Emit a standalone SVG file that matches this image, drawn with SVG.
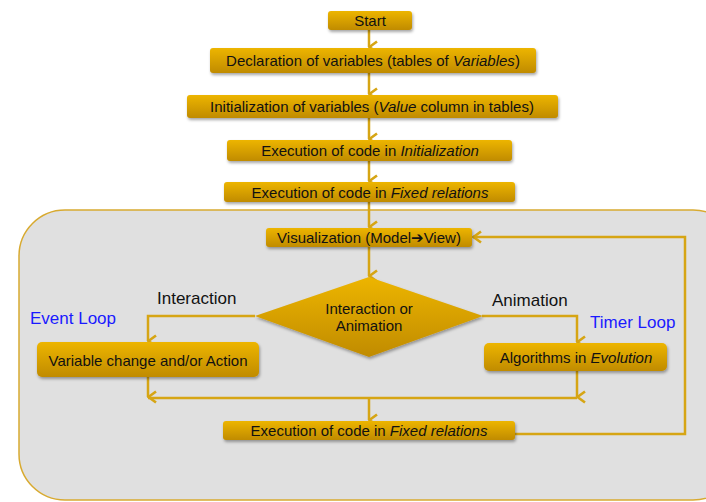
<svg xmlns="http://www.w3.org/2000/svg" width="706" height="502" viewBox="0 0 706 502">
<defs>
<linearGradient id="gold" x1="0" y1="0" x2="0" y2="1">
<stop offset="0" stop-color="#edb500"/>
<stop offset="1" stop-color="#c08b00"/>
</linearGradient>
<filter id="sh" x="-10%" y="-30%" width="120%" height="180%">
<feDropShadow dx="1" dy="2" stdDeviation="1.5" flood-color="#000" flood-opacity="0.35"/>
</filter>
<marker id="ah" viewBox="0 0 14 11" refX="7" refY="10" markerWidth="14" markerHeight="11" markerUnits="userSpaceOnUse" orient="auto-start-reverse">
<path d="M1.5,2 L7,9.5 L12.5,2" fill="none" stroke="#d6a514" stroke-width="2.6"/>
</marker>
<marker id="ahr" viewBox="0 0 11 14" refX="1" refY="7" markerWidth="11" markerHeight="14" markerUnits="userSpaceOnUse" orient="0">
<path d="M9,1.5 L1.5,7 L9,12.5" fill="none" stroke="#d6a514" stroke-width="2.6"/>
</marker>
</defs>
<style>
.box{fill:url(#gold);filter:url(#sh)}
.t{font-family:"Liberation Sans",Arial,"DejaVu Sans",sans-serif;font-size:15px;fill:#111;text-anchor:middle}
.lbl{font-family:"Liberation Sans",Arial,sans-serif;font-size:17px;fill:#111}
.blue{font-family:"Liberation Sans",Arial,sans-serif;font-size:17px;fill:#1a1aff}
.c{fill:none;stroke:#d6a514;stroke-width:2.5}
</style>
<rect x="0" y="0" width="706" height="502" fill="#fff"/>
<rect id="panel" x="19" y="210" width="720" height="290" rx="46" fill="#e0e0e0" stroke="#d8aa30" stroke-width="1.5"/>

<g id="connectors">
<line class="c" x1="369" y1="30" x2="369" y2="47" marker-end="url(#ah)"/>
<line class="c" x1="369" y1="73" x2="369" y2="94" marker-end="url(#ah)"/>
<line class="c" x1="369" y1="118" x2="369" y2="139" marker-end="url(#ah)"/>
<line class="c" x1="369" y1="161" x2="369" y2="181" marker-end="url(#ah)"/>
<line class="c" x1="369" y1="202" x2="369" y2="227" marker-end="url(#ah)"/>
<line class="c" x1="369" y1="247" x2="369" y2="276" marker-end="url(#ah)"/>
<polyline class="c" points="255,316 148,316 148,341" marker-end="url(#ah)"/>
<polyline class="c" points="482,316 577,316 577,342" marker-end="url(#ah)"/>
<line class="c" x1="148" y1="377" x2="148" y2="397" marker-end="url(#ah)"/>
<line class="c" x1="577" y1="371" x2="577" y2="397" marker-end="url(#ah)"/>
<line class="c" x1="148" y1="398" x2="577" y2="398"/>
<line class="c" x1="369" y1="398" x2="369" y2="420" marker-end="url(#ah)"/>
<polyline class="c" points="515,434 685,434 685,237 473,237" marker-end="url(#ahr)"/>
</g>

<g id="start"><rect class="box" x="328" y="11" width="84" height="19" rx="3"/><text class="t" x="370" y="26">Start</text></g>
<g id="declaration"><rect class="box" x="210" y="48" width="326" height="25" rx="3"/><text class="t" x="373" y="66">Declaration of variables (tables of <tspan font-style="italic">Variables</tspan>)</text></g>
<g id="initialization"><rect class="box" x="187" y="95" width="371" height="23" rx="3"/><text class="t" x="372" y="112">Initialization of variables (<tspan font-style="italic">Value</tspan> column in tables)</text></g>
<g id="exec-init"><rect class="box" x="227" y="140" width="285" height="21" rx="3"/><text class="t" x="370" y="156">Execution of code in <tspan font-style="italic">Initialization</tspan></text></g>
<g id="exec-fixed"><rect class="box" x="224" y="182" width="291" height="20" rx="3"/><text class="t" x="370" y="197.5">Execution of code in <tspan font-style="italic">Fixed relations</tspan></text></g>
<g id="visualization"><rect class="box" x="266" y="228" width="206" height="19" rx="3"/><text class="t" x="369" y="243" font-size="14.5">Visualization (Model<tspan font-family="'DejaVu Sans',sans-serif" font-weight="bold">➔</tspan>View)</text></g>
<g id="decision"><polygon class="box" points="369,277 483,316 369,357 255,316"/><text class="t" x="369" y="314" font-size="14">Interaction or</text><text class="t" x="369" y="331" font-size="14">Animation</text></g>
<g id="variable-change"><rect class="box" x="37" y="342" width="222" height="35" rx="5"/><text class="t" x="148" y="366">Variable change and/or Action</text></g>
<g id="algorithms"><rect class="box" x="484" y="343" width="183" height="28" rx="5"/><text class="t" x="576" y="363">Algorithms in <tspan font-style="italic">Evolution</tspan></text></g>
<g id="exec-fixed-2"><rect class="box" x="223" y="421" width="292" height="19" rx="3"/><text class="t" x="369" y="436" font-size="14">Execution of code in <tspan font-style="italic">Fixed relations</tspan></text></g>

<text class="lbl" x="157" y="304">Interaction</text>
<text class="blue" x="30" y="324">Event Loop</text>
<text class="lbl" x="492" y="306">Animation</text>
<text class="blue" x="590" y="328">Timer Loop</text>
</svg>
